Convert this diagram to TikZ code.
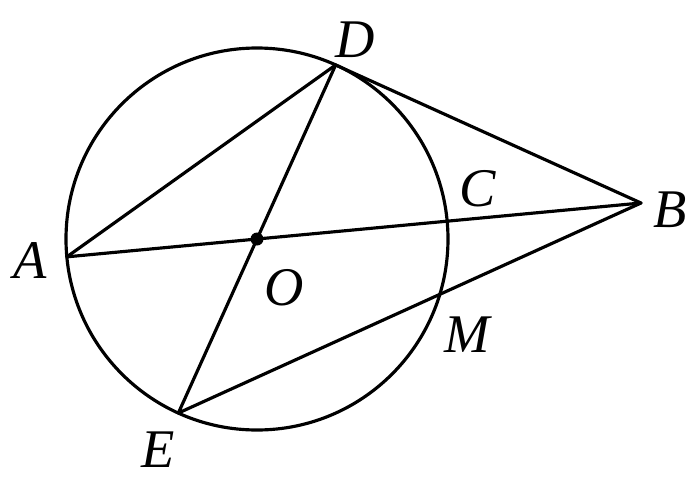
\documentclass[tikz,border=0pt]{standalone}
\usepackage{tikz}
\usepackage{fontspec}
\setmainfont{Liberation Serif}
\usetikzlibrary{calc,positioning}
\tikzstyle{ptlabel} = [inner sep=0pt, font=\fontsize{31}{36}\selectfont\itshape]
\tikzstyle{seg} = [line width=1.8pt, line join=round, line cap=round]
\begin{document}
\begin{tikzpicture}[x=0.02cm,y=0.02cm]
    \useasboundingbox (-257,-239) rectangle (443,239);
    \coordinate (O) at (0,0);
    \coordinate (B) at (384,36);
    \coordinate (D) at (65.68:191);
    \coordinate (E) at (245.68:191);
    \coordinate (A) at (185.36:191);
    \coordinate (C) at (5.36:191);
    \coordinate (M) at (-16.86:191);
    \draw [seg] (O) circle (191);
    \draw [seg] (A) -- (B);
    \draw [seg] (A) -- (D) -- (B);
    \draw [seg] (D) -- (E) -- (B);
    \fill (O) circle (6.5);
    \node [ptlabel] (lD) at (98,199) {D};
    \node [ptlabel] (lC) at (221,50) {C};
    \node [ptlabel] (lB) at (413,29) {B};
    \node [ptlabel] (lA) at (-227,-22) {A};
    \node [ptlabel] (lO) at (27,-49) {O};
    \node [ptlabel] (lM) at (210,-96) {M};
    \node [ptlabel] (lE) at (-99,-211) {E};
\end{tikzpicture}
\end{document}
